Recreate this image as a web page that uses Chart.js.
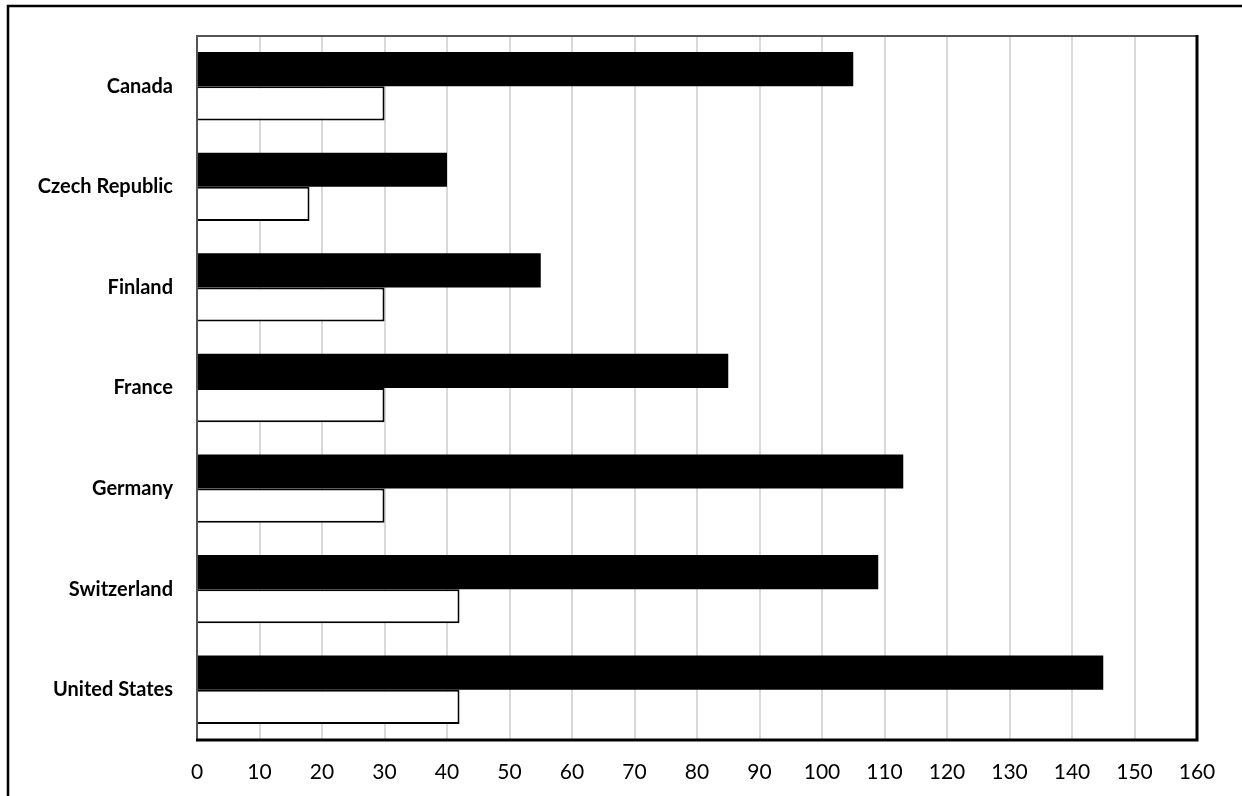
<!DOCTYPE html>
<html>
<head>
<meta charset="utf-8">
<script src="https://cdn.jsdelivr.net/npm/chart.js@4"></script>
<style>
  body { margin: 0; background: #fff; }
  canvas { display: block; }
</style>
</head>
<body>
<canvas id="myChart" width="1242" height="796"></canvas>
<script>
  const countries = ['Canada', 'Czech Republic', 'Finland', 'France', 'Germany', 'Switzerland', 'United States'];
  const blackValues = [105, 40, 55, 85, 113, 109, 145];
  const whiteValues = [30, 18, 30, 30, 30, 42, 42];
  const xMin = 0;
  const xMax = 160;
  const xStep = 10;

  // frame round the plot area and round the whole picture
  const frames = {
    id: 'frames',
    afterDatasetsDraw(chart) {
      const c = chart.ctx;
      const a = chart.chartArea;
      c.save();
      c.strokeStyle = '#000';
      c.lineWidth = 2.5;
      c.beginPath();
      c.moveTo(8, 800);
      c.lineTo(8, 6);
      c.lineTo(1250, 6);
      c.stroke();

      c.lineWidth = 2;
      c.strokeStyle = '#555';
      c.beginPath();
      c.moveTo(a.left, a.bottom);
      c.lineTo(a.left, a.top);
      c.lineTo(a.right, a.top);
      c.stroke();
      c.strokeStyle = '#000';
      c.lineWidth = 3;
      c.beginPath();
      c.moveTo(a.right, a.top - 1);
      c.lineTo(a.right, a.bottom);
      c.lineTo(a.left - 1, a.bottom);
      c.stroke();
      c.restore();
    }
  };

  new Chart(document.getElementById('myChart'), {
    type: 'bar',
    data: {
      labels: countries,
      datasets: [
        {
          label: 'Series 1',
          data: blackValues,
          backgroundColor: '#000',
          borderWidth: 0
        },
        {
          label: 'Series 2',
          data: whiteValues,
          backgroundColor: '#fff',
          borderColor: '#000',
          borderWidth: 2
        }
      ]
    },
    plugins: [frames],
    options: {
      responsive: false,
      animation: false,
      indexAxis: 'y',
      categoryPercentage: 0.68,
      barPercentage: 1.0,
      layout: { padding: { left: 0, right: 45, top: 35, bottom: 0 } },
      plugins: {
        legend: { display: false },
        tooltip: { enabled: false }
      },
      scales: {
        x: {
          min: xMin,
          max: xMax,
          ticks: {
            stepSize: xStep,
            color: '#000',
            padding: 20,
            font: { family: 'Lato', size: 21 }
          },
          grid: { color: '#d9d9d9', lineWidth: 2, drawTicks: false },
          border: { display: false },
          afterFit(scale) { scale.height = 56; }
        },
        y: {
          ticks: {
            color: '#000',
            padding: 24,
            font: { family: 'Lato', size: 20, weight: 'bold' }
          },
          grid: { display: false, drawTicks: false },
          border: { display: false },
          afterFit(scale) { scale.width = 197; }
        }
      }
    }
  });
</script>
</body>
</html>
